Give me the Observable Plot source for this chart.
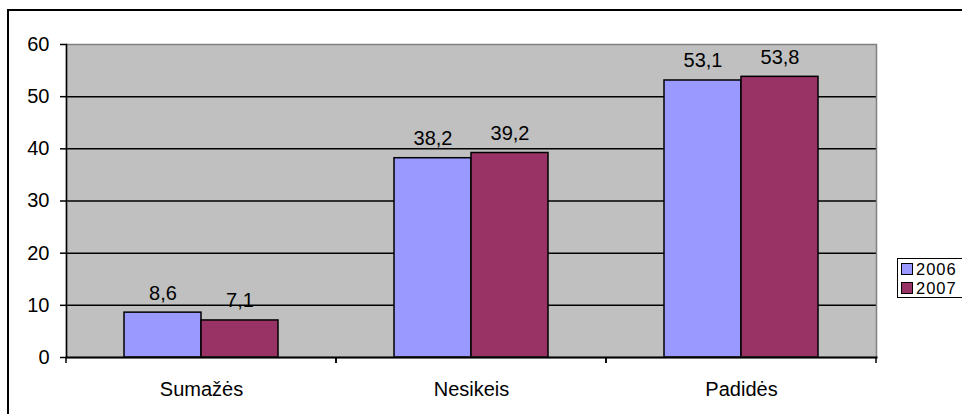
<!DOCTYPE html>
<html>
<head>
<meta charset="utf-8">
<script src="https://cdn.jsdelivr.net/npm/d3@7"></script>
<script src="https://cdn.jsdelivr.net/npm/@observablehq/plot@0.6"></script>
<style>
  html, body { margin: 0; padding: 0; background: #fff; overflow: hidden; }
  body { width: 962px; height: 414px; position: relative; font-family: "Liberation Sans", Arial, sans-serif; }
  #border { position: absolute; left: 7px; top: 9px; width: 1100px; height: 600px; border: 2px solid #000; box-sizing: border-box; }
  #chart { position: absolute; left: 0; top: 0; }
  #legend { position: absolute; left: 897px; top: 258px; width: 120px; height: 40px; border: 1px solid #000; background: #fff; box-sizing: border-box; font-size: 16.5px; line-height: 18px; }
  .row { position: absolute; left: 3px; display: flex; align-items: center; height: 18px; }
  .sw { width: 10px; height: 10px; border: 1px solid #000; margin-right: 3px; }
  .row span { letter-spacing: 1px; }
</style>
</head>
<body>
<div id="border"></div>
<div id="chart"></div>
<div id="legend"></div>
<script>
const categories = ["Sumažės", "Nesikeis", "Padidės"];
const years = ["2006", "2007"];
const values2006 = [8.6, 38.2, 53.1];
const values2007 = [7.1, 39.2, 53.8];
const yTicks = [0, 10, 20, 30, 40, 50, 60];
const gridTicks = [10, 20, 30, 40, 50];
const colors = ["#9999FF", "#993366"];

const data = categories.flatMap((c, i) => [
  {cat: c, year: years[0], value: values2006[i]},
  {cat: c, year: years[1], value: values2007[i]}
]);
const fmt = v => String(v).replace(".", ",");

// boundary tick marks below the category axis (drawn per facet at its edges)
const boundaryTicks = (index, scales, values, dims) => {
  const g = d3.create("svg:g").attr("stroke", "#000").attr("stroke-width", 1.5);
  const yb = dims.height - dims.marginBottom;
  for (const x of [dims.marginLeft, dims.width - dims.marginRight]) {
    g.append("line").attr("x1", x).attr("x2", x).attr("y1", yb).attr("y2", yb + 6);
  }
  return g.node();
};

const chart = Plot.plot({
  width: 962,
  height: 414,
  marginLeft: 66,
  marginRight: 86,
  marginTop: 44,
  marginBottom: 57,
  style: {fontFamily: "'Liberation Sans', Arial, sans-serif", fontSize: "20px", color: "#000", background: "transparent"},
  fx: {domain: categories, padding: 0, label: null},
  x: {domain: years, paddingInner: 0, paddingOuter: 0.753, axis: null},
  y: {domain: [0, 60], label: null},
  color: {domain: years, range: colors},
  marks: [
    Plot.frame({facet: "super", fill: "#C0C0C0", stroke: "none"}),
    Plot.ruleY(gridTicks, {stroke: "#000", strokeWidth: 1.5}),
    Plot.barY(data, {fx: "cat", x: "year", y: "value", fill: "year", stroke: "#000", strokeWidth: 1.5}),
    Plot.text(data, {fx: "cat", x: "year", y: "value", text: d => fmt(d.value), lineAnchor: "bottom", dy: -13, fontSize: 20, fill: "#000"}),
    Plot.frame({facet: "super", stroke: "#808080", strokeWidth: 1.5}),
    Plot.frame({facet: "super", anchor: "left", stroke: "#000", strokeWidth: 1.5}),
    Plot.frame({facet: "super", anchor: "bottom", stroke: "#000", strokeWidth: 2}),
    boundaryTicks,
    Plot.axisY({ticks: yTicks, tickSize: 6, tickPadding: 11, tickFormat: d => String(d), fontSize: 20, label: null, strokeWidth: 1.5}),
    Plot.axisFx({anchor: "bottom", tickSize: 0, tickPadding: 24, fontSize: 20, label: null})
  ]
});
document.getElementById("chart").appendChild(chart);

const legend = document.getElementById("legend");
years.forEach((y, i) => {
  const row = document.createElement("div");
  row.className = "row";
  row.style.top = (i === 0 ? 1 : 20) + "px";
  const sw = document.createElement("div");
  sw.className = "sw";
  sw.style.background = colors[i];
  const t = document.createElement("span");
  t.textContent = y;
  row.appendChild(sw);
  row.appendChild(t);
  legend.appendChild(row);
});
</script>
</body>
</html>
